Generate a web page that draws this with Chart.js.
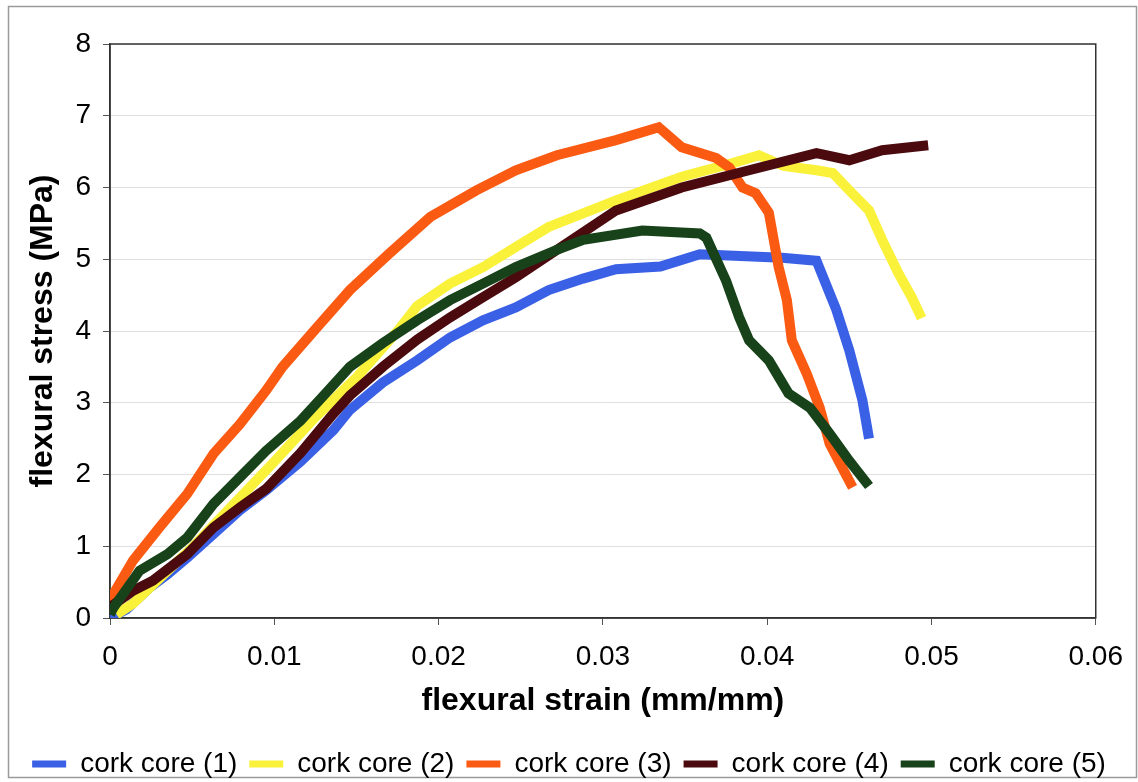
<!DOCTYPE html>
<html>
<head>
<meta charset="utf-8">
<title>flexural stress vs strain</title>
<script src="https://cdn.jsdelivr.net/npm/chart.js@4.4.1/dist/chart.umd.min.js"></script>
<style>
  html, body { margin: 0; padding: 0; background: #fff; overflow: hidden; }
  canvas { display: block; }
</style>
</head>
<body>
<!-- a few px taller than the window so the legend sits as low as in the original -->
<canvas id="chart" width="1138" height="788"></canvas>
<script>
// legend names + line colours
var seriesNames = ['cork core (1)', 'cork core (2)', 'cork core (3)', 'cork core (4)', 'cork core (5)'];
var seriesColors = ['#3a60e6', '#faf23a', '#fa5a12', '#4a0a0e', '#17421a'];

// strain (mm/mm) / stress (MPa)
var strain1 = [0, 0.001, 0.0024, 0.0035, 0.0047, 0.0063, 0.0079, 0.0095, 0.0116, 0.0136, 0.0146, 0.0166, 0.0187, 0.0207, 0.0227, 0.0247, 0.0267, 0.0288, 0.0308, 0.0335, 0.0359, 0.038, 0.0409, 0.043, 0.0442, 0.045, 0.0458, 0.0462];
var stress1 = [0, 0.12, 0.42, 0.61, 0.84, 1.17, 1.5, 1.78, 2.18, 2.62, 2.9, 3.28, 3.59, 3.91, 4.15, 4.33, 4.57, 4.73, 4.86, 4.9, 5.07, 5.05, 5.02, 4.98, 4.3, 3.73, 3.03, 2.5];

var strain2 = [0.0004, 0.0014, 0.003, 0.005, 0.0075, 0.01, 0.0125, 0.015, 0.0175, 0.0187, 0.0207, 0.0227, 0.0247, 0.0267, 0.0308, 0.0348, 0.0379, 0.0395, 0.041, 0.043, 0.044, 0.045, 0.0462, 0.047, 0.048, 0.0488, 0.0494];
var stress2 = [0.05, 0.2, 0.55, 0.98, 1.58, 2.18, 2.8, 3.35, 4.0, 4.35, 4.66, 4.89, 5.17, 5.45, 5.82, 6.15, 6.34, 6.45, 6.3, 6.24, 6.2, 5.96, 5.68, 5.27, 4.8, 4.47, 4.18];

var strain3 = [0, 0.0002, 0.0014, 0.003, 0.0047, 0.0063, 0.0079, 0.0095, 0.0105, 0.0126, 0.0146, 0.017, 0.0195, 0.0223, 0.0247, 0.0272, 0.0308, 0.0334, 0.0348, 0.0369, 0.0377, 0.0385, 0.0393, 0.0401, 0.0407, 0.0412, 0.0415, 0.0424, 0.0432, 0.0438, 0.0452];
var stress3 = [0.2, 0.33, 0.8, 1.26, 1.73, 2.29, 2.7, 3.17, 3.5, 4.05, 4.57, 5.08, 5.59, 5.96, 6.24, 6.45, 6.66, 6.84, 6.56, 6.41, 6.28, 6.0, 5.92, 5.65, 4.89, 4.43, 3.87, 3.41, 2.93, 2.43, 1.82];

var strain4 = [0, 0.0014, 0.0026, 0.0047, 0.0063, 0.0079, 0.0095, 0.0116, 0.0136, 0.0146, 0.0166, 0.0187, 0.0207, 0.0227, 0.0247, 0.0272, 0.0308, 0.0348, 0.0389, 0.043, 0.045, 0.047, 0.0498];
var stress4 = [0.15, 0.38, 0.52, 0.89, 1.26, 1.54, 1.8, 2.3, 2.85, 3.1, 3.5, 3.88, 4.19, 4.47, 4.75, 5.13, 5.68, 6.0, 6.24, 6.48, 6.38, 6.52, 6.59];

var strain5 = [0, 0.0002, 0.0018, 0.0035, 0.0047, 0.0063, 0.0079, 0.0095, 0.0116, 0.013, 0.0146, 0.0166, 0.0187, 0.0207, 0.0227, 0.0247, 0.0272, 0.0288, 0.0324, 0.0359, 0.0363, 0.0375, 0.0383, 0.0389, 0.0401, 0.0413, 0.0426, 0.0438, 0.045, 0.0462];
var stress5 = [0.05, 0.14, 0.66, 0.89, 1.12, 1.59, 1.96, 2.33, 2.75, 3.1, 3.5, 3.83, 4.15, 4.43, 4.66, 4.89, 5.13, 5.27, 5.4, 5.36, 5.3, 4.7, 4.19, 3.87, 3.59, 3.13, 2.93, 2.57, 2.19, 1.84];

var xTicks = [0, 0.01, 0.02, 0.03, 0.04, 0.05, 0.06];
var xTickLabels = ['0', '0.01', '0.02', '0.03', '0.04', '0.05', '0.06'];
var yTicks = [0, 1, 2, 3, 4, 5, 6, 7, 8];

var FONT = '"Liberation Sans", Arial, Helvetica, sans-serif';

function toPoints(xs, ys) {
  var pts = [];
  for (var i = 0; i < xs.length; i++) pts.push({x: xs[i], y: ys[i]});
  return pts;
}

var allX = [strain1, strain2, strain3, strain4, strain5];
var allY = [stress1, stress2, stress3, stress4, stress5];

var datasets = [];
for (var s = 0; s < 5; s++) {
  datasets.push({
    label: seriesNames[s],
    data: toPoints(allX[s], allY[s]),
    borderColor: seriesColors[s],
    backgroundColor: seriesColors[s],
    borderWidth: 10,
    pointRadius: 0,
    showLine: true,
    tension: 0,
    borderJoinStyle: 'miter',
    order: 5 - s   // later series on top, like the original
  });
}

// white page, outer frame and the box around the plot area
var framePlugin = {
  id: 'frame',
  beforeDraw: function(chart) {
    var ctx = chart.ctx;
    ctx.save();
    ctx.fillStyle = '#fff';
    ctx.fillRect(0, 0, chart.width, chart.height);
    ctx.strokeStyle = '#9a9a9a';
    ctx.lineWidth = 1.5;
    ctx.strokeRect(8.5, 6.5, 1128, 771);
    ctx.restore();
  },
  beforeDatasetsDraw: function(chart) {
    var a = chart.chartArea, ctx = chart.ctx;
    ctx.save();
    ctx.strokeStyle = '#333';
    ctx.lineWidth = 1.5;
    ctx.strokeRect(a.left, a.top, a.right - a.left, a.bottom - a.top);
    ctx.restore();
  }
};

new Chart(document.getElementById('chart'), {
  type: 'scatter',
  data: { datasets: datasets },
  plugins: [framePlugin],
  options: {
    responsive: false,
    animation: false,
    layout: { padding: { top: 44, left: 0, right: 0, bottom: 0 } },
    plugins: {
      tooltip: { enabled: false },
      legend: {
        position: 'bottom',
        labels: {
          color: '#000',
          font: { family: FONT, size: 28 },
          boxWidth: 34,
          boxHeight: 7,
          padding: 12,
          sort: function(a, b) { return a.datasetIndex - b.datasetIndex; },
          generateLabels: function(chart) {
            var items = Chart.defaults.plugins.legend.labels.generateLabels(chart);
            items.forEach(function(it) {
              it.lineWidth = 0;
              it.fillStyle = seriesColors[it.datasetIndex];
            });
            return items;
          }
        }
      }
    },
    scales: {
      x: {
        type: 'linear',
        min: 0,
        max: 0.06,
        afterBuildTicks: function(scale) {
          scale.ticks = xTicks.map(function(v) { return {value: v}; });
        },
        afterFit: function(scale) { scale.height = 120; },
        ticks: {
          color: '#000',
          font: { family: FONT, size: 28 },
          padding: 15,
          maxRotation: 0,
          callback: function(v, i) { return xTickLabels[i]; }
        },
        grid: { drawOnChartArea: false, tickLength: 7, tickColor: '#555' },
        border: { color: '#333', width: 1.5 },
        title: {
          display: true,
          text: 'flexural strain (mm/mm)',
          color: '#000',
          font: { family: FONT, size: 32, weight: 'bold' },
          padding: { top: 0, bottom: 18 }
        }
      },
      y: {
        type: 'linear',
        min: 0,
        max: 8,
        afterBuildTicks: function(scale) {
          scale.ticks = yTicks.map(function(v) { return {value: v}; });
        },
        afterFit: function(scale) { scale.width = 110; },
        ticks: {
          color: '#000',
          font: { family: FONT, size: 28 },
          padding: 12
        },
        grid: {
          color: '#e0e0e0',
          borderDash: [2, 3],
          tickBorderDash: [],
          tickLength: 7,
          tickColor: '#555'
        },
        border: { color: '#333', width: 1.5 },
        title: {
          display: true,
          text: 'flexural stress (MPa)',
          color: '#000',
          font: { family: FONT, size: 32, weight: 'bold' },
          padding: { top: 24, bottom: 0 }
        }
      },
      yRight: {
        type: 'linear',
        position: 'right',
        display: true,
        ticks: { display: false },
        grid: { display: false },
        border: { display: false },
        afterFit: function(scale) { scale.width = 41; }
      }
    }
  }
});
</script>
</body>
</html>
